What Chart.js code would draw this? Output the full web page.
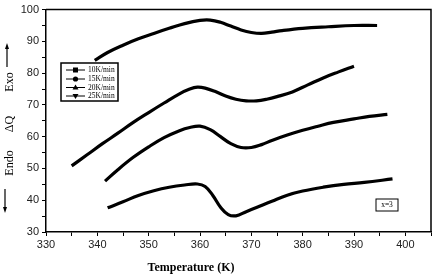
<!DOCTYPE html>
<html>
<head>
<meta charset="utf-8">
<script src="https://cdn.jsdelivr.net/npm/chart.js@4.4.0/dist/chart.umd.min.js"></script>
<style>
  html, body { margin: 0; padding: 0; background: #fff; }
  #wrap { width: 435px; height: 276px; position: relative; }
</style>
</head>
<body>
<div id="wrap"><canvas id="dscChart"></canvas></div>
<script>
// heating rates
const rateLabels = ["10K/min", "15K/min", "20K/min", "25K/min"];

// 10K/min
const temp10 = [342, 345, 348, 351, 354, 357, 359.5, 361, 362.5, 364, 365.5, 367, 369, 371, 374, 377, 380, 384, 388, 392, 397.5];
const dq10   = [37.6, 39.5, 41.5, 43, 44.1, 44.8, 45.1, 44.3, 41.5, 37.8, 35.5, 35.1, 36.4, 37.7, 39.7, 41.6, 42.9, 44.1, 45, 45.6, 46.7];

// 15K/min
const temp15 = [341.5, 344, 347, 350, 353, 356, 358, 360, 362, 364, 366, 368, 370, 372, 374, 377, 380, 383, 386, 390, 393, 396.5];
const dq15   = [46, 49.6, 53.5, 56.8, 59.7, 61.9, 62.9, 63.3, 62.2, 60, 57.8, 56.6, 56.6, 57.5, 58.8, 60.5, 62, 63.3, 64.5, 65.6, 66.4, 67];

// 20K/min
const temp20 = [335, 338, 341, 344, 347, 350, 353, 356, 358, 359.5, 361, 363, 365, 367, 369, 371, 373, 375, 378, 381, 384, 387, 390];
const dq20   = [50.8, 54.3, 57.8, 61.1, 64.5, 67.6, 70.6, 73.5, 75, 75.6, 75.3, 74.2, 72.8, 71.8, 71.3, 71.3, 71.8, 72.6, 74.1, 76.3, 78.5, 80.4, 82.2];

// 25K/min
const temp25 = [339.5, 342, 345, 348, 351, 354, 357, 360, 362, 364, 366, 368, 370, 372, 374, 376, 380, 385, 390, 394.5];
const dq25   = [84, 86.5, 88.8, 90.8, 92.5, 94.1, 95.6, 96.6, 96.7, 96, 94.8, 93.6, 92.8, 92.5, 92.9, 93.4, 94.1, 94.6, 95, 95];

const toPoints = (xs, ys) => xs.map((x, i) => ({ x: x, y: ys[i] }));

const series = [
  toPoints(temp10, dq10),
  toPoints(temp15, dq15),
  toPoints(temp20, dq20),
  toPoints(temp25, dq25)
];

// frame, legend box, notes and y title
const extras = {
  id: "extras",
  afterDraw(chart) {
    const ctx = chart.ctx;
    const a = chart.chartArea;
    ctx.save();

    // top + right border
    ctx.strokeStyle = "#000";
    ctx.lineWidth = 1.5;
    ctx.beginPath();
    ctx.moveTo(a.left, a.top);
    ctx.lineTo(a.right, a.top);
    ctx.lineTo(a.right, a.bottom);
    ctx.stroke();

    // legend box
    ctx.strokeRect(61, 63, 57, 38);
    ctx.font = "7.5px 'Liberation Serif'";
    ctx.textBaseline = "middle";
    ctx.fillStyle = "#000";
    const rows = [70, 79, 87.5, 96];
    rateLabels.forEach((lab, i) => {
      const y = rows[i];
      ctx.lineWidth = 1;
      ctx.beginPath();
      ctx.moveTo(66, y);
      ctx.lineTo(85, y);
      ctx.stroke();
      ctx.beginPath();
      if (i === 0) {
        ctx.rect(73, y - 2.5, 5, 5);
      } else if (i === 1) {
        ctx.arc(75.5, y, 2.6, 0, Math.PI * 2);
      } else if (i === 2) {
        ctx.moveTo(75.5, y - 3);
        ctx.lineTo(78.5, y + 2);
        ctx.lineTo(72.5, y + 2);
        ctx.closePath();
      } else {
        ctx.moveTo(75.5, y + 3);
        ctx.lineTo(78.5, y - 2);
        ctx.lineTo(72.5, y - 2);
        ctx.closePath();
      }
      ctx.fill();
      ctx.fillText(lab, 88, y + 0.5);
    });

    // x=3 note
    ctx.lineWidth = 1;
    ctx.strokeRect(376, 199, 22, 12);
    ctx.textAlign = "center";
    ctx.fillText("x=3", 387, 205.5);

    // x axis title
    ctx.font = "bold 12px 'Liberation Serif'";
    ctx.fillText("Temperature (K)", 191, 268);

    // y axis title pieces
    ctx.font = "12px 'Liberation Serif'";
    const vtext = (txt, x, y) => {
      ctx.save();
      ctx.translate(x, y);
      ctx.rotate(-Math.PI / 2);
      ctx.fillText(txt, 0, 0);
      ctx.restore();
    };
    vtext("Exo", 10, 82);
    vtext("\u0394Q", 10, 124);
    vtext("Endo", 10, 163);

    // arrows
    ctx.lineWidth = 1.2;
    ctx.beginPath();
    ctx.moveTo(7, 67);
    ctx.lineTo(7, 46);
    ctx.stroke();
    ctx.beginPath();
    ctx.moveTo(7, 43);
    ctx.lineTo(5, 49);
    ctx.lineTo(9, 49);
    ctx.closePath();
    ctx.fill();

    ctx.beginPath();
    ctx.moveTo(5, 189);
    ctx.lineTo(5, 209);
    ctx.stroke();
    ctx.beginPath();
    ctx.moveTo(5, 213);
    ctx.lineTo(3, 207);
    ctx.lineTo(7, 207);
    ctx.closePath();
    ctx.fill();

    ctx.restore();
  }
};

new Chart(document.getElementById("dscChart"), {
  type: "line",
  data: {
    datasets: series.map((pts, i) => ({
      label: rateLabels[i],
      data: pts,
      borderColor: "#000",
      backgroundColor: "#000",
      borderWidth: 3.2,
      pointRadius: 0,
      tension: 0.4,
      fill: false
    }))
  },
  options: {
    responsive: true,
    maintainAspectRatio: false,
    animation: false,
    layout: { padding: { top: 3, right: 4, left: 0, bottom: 0 } },
    plugins: {
      legend: { display: false },
      tooltip: { enabled: false }
    },
    scales: {
      x: {
        type: "linear",
        min: 330,
        max: 405,
        afterFit: s => { s.height = 44; },
        border: { color: "#000", width: 1.5 },
        grid: { drawOnChartArea: false, color: "#000", tickLength: 4 },
        ticks: {
          stepSize: 5,
          maxRotation: 0,
          autoSkip: false,
          color: "#222",
          font: { family: "'Liberation Sans'", size: 11 },
          padding: 2,
          callback: v => (v % 10 === 0 && v <= 400 ? v : "")
        }
      },
      y: {
        min: 30,
        max: 100,
        afterFit: s => { s.width = 46; },
        border: { color: "#000", width: 1.5 },
        grid: { drawOnChartArea: false, color: "#000", tickLength: 4 },
        ticks: {
          stepSize: 5,
          autoSkip: false,
          color: "#222",
          font: { family: "'Liberation Sans'", size: 11 },
          padding: 3,
          callback: v => (v % 10 === 0 ? v : "")
        }
      }
    }
  },
  plugins: [extras]
});
</script>
</body>
</html>
